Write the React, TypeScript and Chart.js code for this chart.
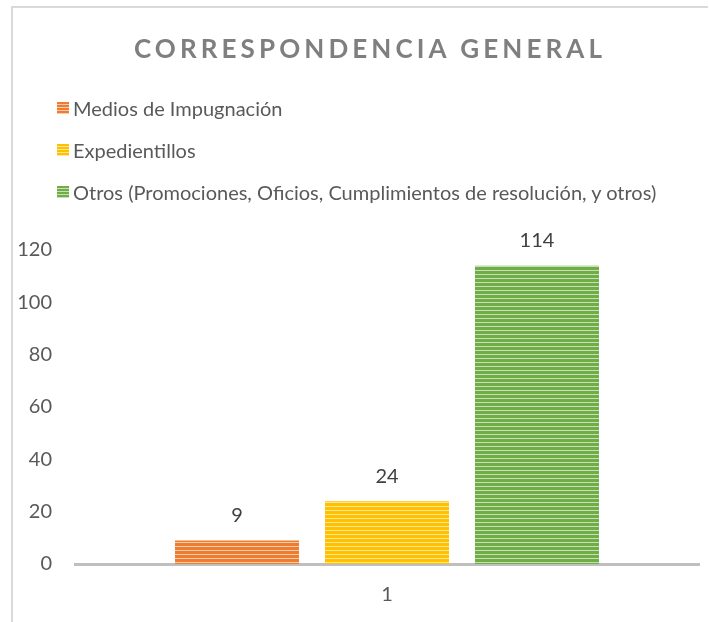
import React, { useEffect, useRef } from "react";
import { Chart, registerables } from "chart.js";

Chart.register(...registerables);

const title = "CORRESPONDENCIA GENERAL";
const categories = ["1"];
const seriesLabels = [
  "Medios de Impugnación",
  "Expedientillos",
  "Otros (Promociones, Oficios, Cumplimientos de resolución, y otros)",
];
const mediosValues = [9];
const expedientillosValues = [24];
const otrosValues = [114];
const darkColors = ["#ED7D31", "#FFC000", "#70AD47"];
const lightColors = ["#F8CBAD", "#FFE699", "#C5E0B4"];

const FONT = "Lato, 'Open Sans', sans-serif";

function makePattern(dark: string, light: string): CanvasPattern | string {
  const c = document.createElement("canvas");
  c.width = 8;
  c.height = 4;
  const ctx = c.getContext("2d");
  if (!ctx) return dark;
  ctx.fillStyle = dark;
  ctx.fillRect(0, 0, 8, 4);
  ctx.fillStyle = light;
  ctx.fillRect(0, 2, 8, 1);
  const p = ctx.createPattern(c, "repeat");
  return p || dark;
}

const valueLabels = {
  id: "valueLabels",
  afterDatasetsDraw(chart: any) {
    const ctx = chart.ctx;
    ctx.save();
    ctx.font = `20px ${FONT}`;
    ctx.fillStyle = "#404040";
    ctx.textAlign = "center";
    ctx.textBaseline = "middle";
    chart.data.datasets.forEach((ds: any, i: number) => {
      const meta = chart.getDatasetMeta(i);
      meta.data.forEach((bar: any, j: number) => {
        ctx.fillText(String(ds.data[j]), bar.x, bar.y - 25);
      });
    });
    ctx.restore();
  },
};

export default function App() {
  const ref = useRef<HTMLCanvasElement>(null);
  useEffect(() => {
    if (!ref.current) return;
    const series = [mediosValues, expedientillosValues, otrosValues];
    const chart = new Chart(ref.current, {
      type: "bar",
      data: {
        labels: categories,
        datasets: series.map((d, i) => ({
          label: seriesLabels[i],
          data: d,
          backgroundColor: makePattern(darkColors[i], lightColors[i]) as any,
          borderWidth: 0,
        })),
      },
      options: {
        responsive: false,
        animation: false,
        devicePixelRatio: 1,
        categoryPercentage: 0.721,
        barPercentage: 0.827,
        layout: { padding: { top: 250, right: 10, left: 0, bottom: 0 } },
        plugins: {
          legend: { display: false },
          title: { display: false },
          tooltip: { enabled: false },
        },
        scales: {
          x: {
            grid: { display: false, drawTicks: false },
            border: { display: true, color: "#BFBFBF", width: 3 },
            ticks: { color: "#595959", font: { family: FONT, size: 20 }, padding: 19 },
            afterFit(scale: any) {
              scale.height = 58;
            },
          },
          y: {
            min: 0,
            max: 120,
            grid: { display: false, drawTicks: false },
            border: { display: false },
            ticks: {
              stepSize: 20,
              color: "#595959",
              font: { family: FONT, size: 20 },
              padding: 23,
            },
            afterFit(scale: any) {
              scale.width = 75;
            },
          },
        },
      },
      plugins: [valueLabels],
    });
    return () => chart.destroy();
  }, []);

  return (
    <div style={{ position: "fixed", left: 0, top: 0, width: 709, height: 622, background: "#fff", overflow: "hidden" }}>
      <div
        style={{
          position: "absolute",
          left: 11,
          top: 6,
          width: 697,
          height: 640,
          borderLeft: "2px solid #D9D9D9",
          borderTop: "2px solid #D9D9D9",
          boxSizing: "border-box",
        }}
      />
      <canvas ref={ref} width={709} height={622} style={{ position: "absolute", left: 0, top: 0 }} />
      <div
        style={{
          position: "absolute",
          left: 0,
          width: 740,
          top: 32,
          textAlign: "center",
          fontFamily: FONT,
          fontWeight: 700,
          fontSize: 26,
          letterSpacing: 4.1,
          color: "#7F7F7F",
          lineHeight: "32px",
        }}
      >
        {title}
      </div>
      {seriesLabels.map((s, i) => (
        <div
          key={i}
          style={{
            position: "absolute",
            left: 57,
            top: 96 + i * 42,
            height: 24,
            display: "flex",
            alignItems: "center",
            fontFamily: FONT,
            fontSize: 20,
            color: "#595959",
            whiteSpace: "nowrap",
          }}
        >
          <span
            style={{
              display: "inline-block",
              width: 12,
              height: 12,
              marginRight: 4,
              background: `repeating-linear-gradient(to bottom, ${darkColors[i]} 0px, ${darkColors[i]} 2px, ${lightColors[i]} 2px, ${lightColors[i]} 3px)`,
            }}
          />
          {s}
        </div>
      ))}
    </div>
  );
}
